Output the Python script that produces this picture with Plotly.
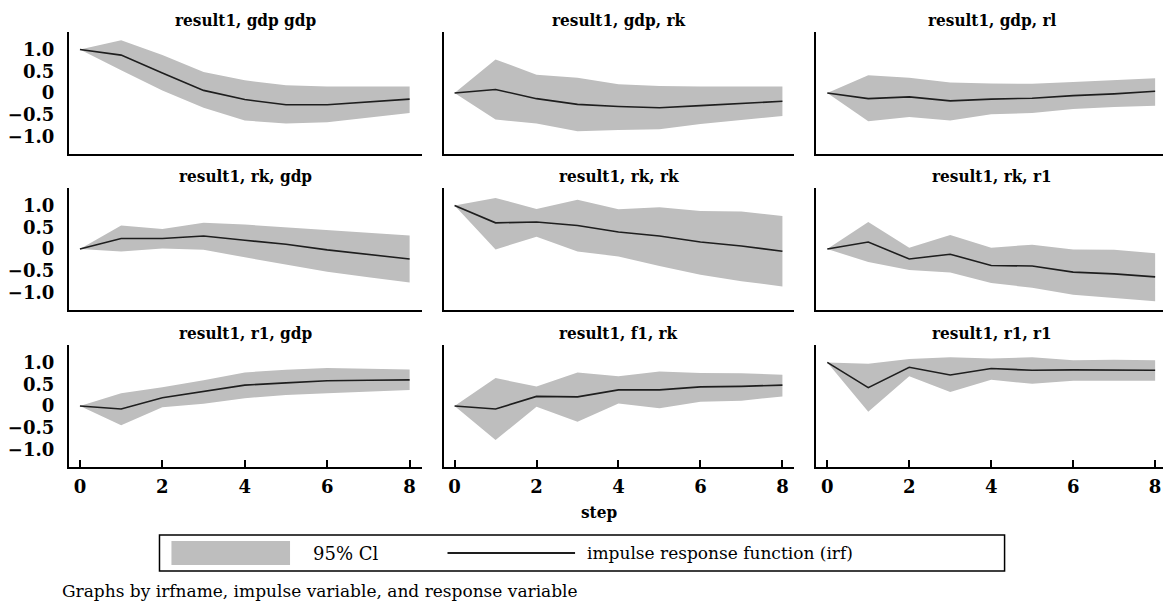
import plotly.graph_objects as go

# The page body adds an 8 px margin; the figure is sized and positioned to compensate.
PAGE_W, PAGE_H, OFF = 1171, 602, 8
W, H = PAGE_W - OFF, PAGE_H - OFF

steps = [0, 1, 2, 3, 4, 5, 6, 7, 8]

titles = [
    "result1, gdp gdp", "result1, gdp, rk", "result1, gdp, rl",
    "result1, rk, gdp", "result1, rk, rk", "result1, rk, r1",
    "result1, r1, gdp", "result1, f1, rk", "result1, r1, r1",
]

irf_gdp_gdp = [1.0, 0.87, 0.46, 0.06, -0.15, -0.27, -0.27, -0.21, -0.14]
upper_gdp_gdp = [1.0, 1.21, 0.87, 0.48, 0.29, 0.18, 0.15, 0.15, 0.15]
lower_gdp_gdp = [1.0, 0.52, 0.06, -0.34, -0.63, -0.70, -0.67, -0.57, -0.46]

irf_gdp_rk = [0.0, 0.08, -0.13, -0.26, -0.31, -0.34, -0.29, -0.24, -0.19]
upper_gdp_rk = [0.0, 0.77, 0.42, 0.35, 0.20, 0.16, 0.15, 0.15, 0.15]
lower_gdp_rk = [0.0, -0.61, -0.70, -0.88, -0.85, -0.83, -0.71, -0.62, -0.53]

irf_gdp_rl = [0.0, -0.13, -0.09, -0.18, -0.14, -0.12, -0.06, -0.02, 0.04]
upper_gdp_rl = [0.0, 0.41, 0.35, 0.24, 0.22, 0.21, 0.25, 0.29, 0.34]
lower_gdp_rl = [0.0, -0.65, -0.55, -0.63, -0.49, -0.46, -0.37, -0.32, -0.29]

irf_rk_gdp = [0.0, 0.24, 0.24, 0.30, 0.20, 0.11, -0.02, -0.12, -0.23]
upper_rk_gdp = [0.0, 0.54, 0.46, 0.60, 0.56, 0.50, 0.43, 0.37, 0.31]
lower_rk_gdp = [0.0, -0.06, 0.01, -0.02, -0.19, -0.35, -0.52, -0.65, -0.77]

irf_rk_rk = [1.0, 0.60, 0.62, 0.54, 0.39, 0.30, 0.16, 0.07, -0.05]
upper_rk_rk = [1.0, 1.17, 0.92, 1.13, 0.91, 0.96, 0.87, 0.86, 0.76]
lower_rk_rk = [1.0, -0.01, 0.28, -0.06, -0.17, -0.39, -0.59, -0.74, -0.86]

irf_rk_r1 = [0.0, 0.16, -0.23, -0.12, -0.38, -0.39, -0.53, -0.57, -0.64]
upper_rk_r1 = [0.0, 0.62, 0.03, 0.32, 0.03, 0.10, -0.01, -0.02, -0.10]
lower_rk_r1 = [0.0, -0.30, -0.48, -0.54, -0.78, -0.89, -1.05, -1.12, -1.20]

irf_r1_gdp = [0.0, -0.07, 0.19, 0.33, 0.48, 0.53, 0.58, 0.59, 0.60]
upper_r1_gdp = [0.0, 0.29, 0.43, 0.59, 0.77, 0.83, 0.87, 0.85, 0.84]
lower_r1_gdp = [0.0, -0.44, -0.03, 0.05, 0.18, 0.25, 0.29, 0.33, 0.37]

irf_f1_rk = [0.0, -0.07, 0.22, 0.21, 0.37, 0.37, 0.44, 0.45, 0.48]
upper_f1_rk = [0.0, 0.64, 0.45, 0.77, 0.68, 0.79, 0.76, 0.75, 0.72]
lower_f1_rk = [0.0, -0.78, -0.02, -0.36, 0.06, -0.05, 0.10, 0.12, 0.22]

irf_r1_r1 = [1.0, 0.42, 0.89, 0.71, 0.86, 0.82, 0.83, 0.83, 0.82]
upper_r1_r1 = [1.0, 0.97, 1.08, 1.12, 1.09, 1.12, 1.05, 1.06, 1.05]
lower_r1_r1 = [1.0, -0.13, 0.68, 0.32, 0.60, 0.51, 0.58, 0.58, 0.58]

irfs = [irf_gdp_gdp, irf_gdp_rk, irf_gdp_rl, irf_rk_gdp, irf_rk_rk, irf_rk_r1,
        irf_r1_gdp, irf_f1_rk, irf_r1_r1]
uppers = [upper_gdp_gdp, upper_gdp_rk, upper_gdp_rl, upper_rk_gdp, upper_rk_rk,
          upper_rk_r1, upper_r1_gdp, upper_f1_rk, upper_r1_r1]
lowers = [lower_gdp_gdp, lower_gdp_rk, lower_gdp_rl, lower_rk_gdp, lower_rk_rk,
          lower_rk_r1, lower_r1_gdp, lower_f1_rk, lower_r1_r1]

y_tickvals = [-1.0, -0.5, 0, 0.5, 1.0]
y_ticktext = ["\u22121.0", "\u22120.5", "0", "0.5", "1.0"]
x_tickvals = [0, 2, 4, 6, 8]

FONT = "DejaVu Serif"
TFONT = "DejaVu Serif Condensed, DejaVu Serif"
BAND = "#bebebe"
LINE = "#1e1e1e"


def px_x(x):
    return (x - OFF) / W


def px_y(y):
    return 1 - (y - OFF) / H


col_px = [(65, 419), (441, 793), (815, 1167)]
row_px = [(32, 154), (188, 310), (345, 467)]
title_y = [20, 176, 333]

fig = go.Figure()
layout = {}
annotations = []

for i in range(9):
    r, c = divmod(i, 3)
    n = i + 1
    xa = "x" if n == 1 else f"x{n}"
    ya = "y" if n == 1 else f"y{n}"
    fig.add_trace(go.Scatter(x=steps, y=lowers[i], mode="lines", line=dict(width=0),
                             showlegend=False, hoverinfo="skip", xaxis=xa, yaxis=ya))
    fig.add_trace(go.Scatter(x=steps, y=uppers[i], mode="lines", line=dict(width=0),
                             fill="tonexty", fillcolor=BAND, showlegend=False,
                             hoverinfo="skip", xaxis=xa, yaxis=ya))
    fig.add_trace(go.Scatter(x=steps, y=irfs[i], mode="lines",
                             line=dict(color=LINE, width=1.6), showlegend=False,
                             xaxis=xa, yaxis=ya))
    x0, x1 = col_px[c]
    y0, y1 = row_px[r]
    xkey = "xaxis" if n == 1 else f"xaxis{n}"
    ykey = "yaxis" if n == 1 else f"yaxis{n}"
    layout[xkey] = dict(
        domain=[px_x(x0), px_x(x1)], range=[-0.27, 8.29], anchor=ya,
        showgrid=False, zeroline=False, showline=True, linecolor="black", linewidth=2,
        tickvals=x_tickvals if r == 2 else [], ticks="inside" if r == 2 else "",
        ticklen=7, tickwidth=1.5, tickcolor="black",
        showticklabels=(r == 2), ticklabelstandoff=2,
        tickfont=dict(family=FONT, size=18, color="black", weight="bold"),
    )
    layout[ykey] = dict(
        domain=[px_y(y1), px_y(y0)], range=[-1.4, 1.4], anchor=xa,
        showgrid=False, zeroline=False, showline=True, linecolor="black", linewidth=2,
        tickvals=y_tickvals if c == 0 else [], ticktext=y_ticktext if c == 0 else None,
        ticks="", showticklabels=(c == 0), ticklabelstandoff=9,
        tickfont=dict(family=FONT, size=18, color="black", weight="bold"),
    )
    annotations.append(dict(
        text=titles[i], x=px_x((x0 + x1) / 2), y=px_y(title_y[r]), xref="paper",
        yref="paper", xanchor="center", yanchor="middle", showarrow=False,
        borderpad=0,
        font=dict(family=TFONT, size=17, color="black", weight="bold"),
    ))

annotations.append(dict(text="step", x=px_x(597), y=px_y(512), xref="paper", yref="paper",
                        xanchor="center", yanchor="middle", showarrow=False,
                        font=dict(family=TFONT, size=17, color="black", weight="bold")))
annotations.append(dict(text="95% Cl", x=px_x(308), y=px_y(553), xref="paper", yref="paper",
                        xanchor="left", yanchor="middle", showarrow=False,
                        font=dict(family=FONT, size=18, color="black")))
annotations.append(dict(text="impulse response function (irf)", x=px_x(583), y=px_y(553),
                        xref="paper", yref="paper", xanchor="left", yanchor="middle",
                        showarrow=False, font=dict(family=FONT, size=17, color="black")))
annotations.append(dict(text="Graphs by irfname, impulse variable, and response variable",
                        x=px_x(56), y=px_y(591), xref="paper", yref="paper",
                        xanchor="left", yanchor="middle", showarrow=False,
                        font=dict(family=FONT, size=17, color="black")))

shapes = [
    dict(type="rect", xref="paper", yref="paper", x0=px_x(156), x1=px_x(1004),
         y0=px_y(571), y1=px_y(535), line=dict(color="black", width=1.5), fillcolor="rgba(0,0,0,0)"),
    dict(type="rect", xref="paper", yref="paper", x0=px_x(168), x1=px_x(287),
         y0=px_y(565), y1=px_y(541), line=dict(width=0), fillcolor=BAND),
    dict(type="line", xref="paper", yref="paper", x0=px_x(445), x1=px_x(573),
         y0=px_y(553), y1=px_y(553), line=dict(color=LINE, width=2)),
]

fig.update_layout(
    width=W, height=H, margin=dict(l=0, r=0, t=0, b=0),
    paper_bgcolor="white", plot_bgcolor="white", showlegend=False,
    annotations=annotations, shapes=shapes, **layout,
)

fig.write_html("out.html")
